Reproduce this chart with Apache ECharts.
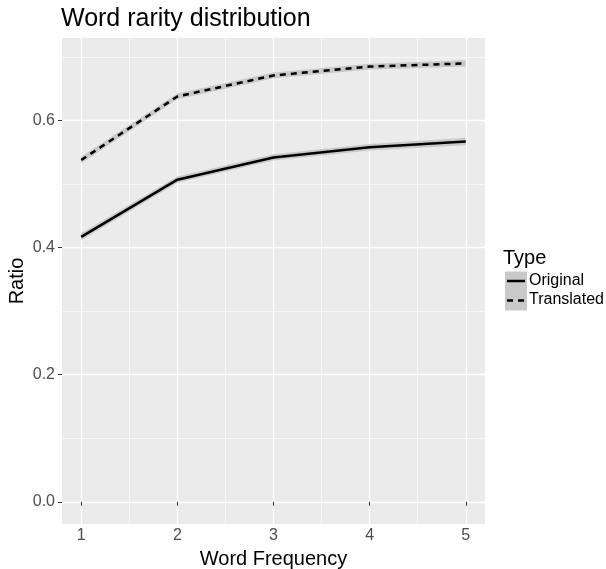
<!DOCTYPE html>
<html>
<head>
<meta charset="utf-8">
<script src="https://cdn.jsdelivr.net/npm/echarts@6/dist/echarts.min.js"></script>
<style>
    html, body { margin: 0; padding: 0; background: #fff; }
    #chart { width: 606px; height: 569px; }
</style>
</head>
<body>
<div id="chart"></div>
<script>
    // 数据
    var freqs = [1, 2, 3, 4, 5];
    var original = [0.417, 0.507, 0.542, 0.558, 0.567];
    var originalLow = [0.4115, 0.502, 0.537, 0.553, 0.561];
    var originalHigh = [0.4225, 0.512, 0.547, 0.563, 0.573];
    var translated = [0.538, 0.638, 0.671, 0.685, 0.690];
    var translatedLow = [0.533, 0.6335, 0.6665, 0.6805, 0.685];
    var translatedHigh = [0.543, 0.6425, 0.6755, 0.6895, 0.695];
    var yTicks = [0, 0.2, 0.4, 0.6];
    var yMinor = [0.1, 0.3, 0.5, 0.7];
    var xMinor = [1.5, 2.5, 3.5, 4.5];
    var legendNames = ['Original', 'Translated'];

    var font = 'Liberation Sans, Arial, sans-serif';
    var ribbonColor = '#c9c9c9';

    var pairs = function(ys){
        var out = [];
        for( var i = 0; i < freqs.length; i++ ){
            out.push( [freqs[i], ys[i]] );
        }
        return out;
    };

    // 置信带：整条带子在第一个数据项里画成一个多边形
    var ribbon = function(name, lo, hi){
        var data = [];
        for( var i = 0; i < freqs.length; i++ ){
            data.push( [freqs[i], lo[i], hi[i]] );
        }
        return {
            name: name,
            type: 'custom',
            data: data,
            silent: true,
            z: 1,
            encode: { x: 0, y: [1, 2] },
            renderItem: function(params, api){
                if( params.dataIndex !== 0 ){
                    return null;
                }
                var n = params.dataInsideLength;
                var top = [], bottom = [];
                for( var j = 0; j < n; j++ ){
                    var x = api.value(0, j);
                    bottom.push( api.coord([x, api.value(1, j)]) );
                    top.unshift( api.coord([x, api.value(2, j)]) );
                }
                return {
                    type: 'polygon',
                    shape: { points: bottom.concat(top) },
                    style: { fill: ribbonColor }
                };
            }
        };
    };

    var option = {
        animation: false,
        backgroundColor: '#fff',
        title: [{
            text: 'Word rarity distribution',
            left: 61,
            top: 7,
            padding: 0,
            textStyle: { fontFamily: font, fontSize: 25, fontWeight: 'normal', color: '#000' }
        }, {
            text: 'Type',
            left: 503,
            top: 248,
            padding: 0,
            textStyle: { fontFamily: font, fontSize: 20, fontWeight: 'normal', color: '#000' }
        }],
        grid: {
            left: 62, right: 121, top: 38, bottom: 45,
            show: true,
            backgroundColor: '#ebebeb',
            borderWidth: 0,
            outerBoundsMode: 'none'
        },
        // 图例：灰色底块 + 线型 + 文字
        graphic: [
            { type: 'rect', left: 505, top: 271.5, shape: { width: 22, height: 19.5 }, style: { fill: ribbonColor } },
            { type: 'rect', left: 505, top: 291, shape: { width: 22, height: 19.5 }, style: { fill: ribbonColor } },
            { type: 'line', shape: { x1: 507, y1: 281, x2: 525, y2: 281 }, style: { stroke: '#000', lineWidth: 2.5 } },
            { type: 'line', shape: { x1: 507, y1: 300.5, x2: 525, y2: 300.5 }, style: { stroke: '#000', lineWidth: 2.5, lineDash: [6, 5] } },
            { type: 'text', left: 529, top: 272.5, style: { text: legendNames[0], font: '16px ' + font, fill: '#000' } },
            { type: 'text', left: 529, top: 292, style: { text: legendNames[1], font: '16px ' + font, fill: '#000' } }
        ],
        xAxis: [{
            type: 'value',
            min: 0.8,
            max: 5.2,
            name: 'Word Frequency',
            nameLocation: 'middle',
            nameGap: 25,
            nameMoveOverlap: false,
            nameTextStyle: { fontFamily: font, fontSize: 20, color: '#000' },
            axisLine: { show: false },
            axisTick: { show: true, length: 4, customValues: freqs, lineStyle: { color: '#333', width: 1 } },
            axisLabel: { customValues: freqs, margin: 4, fontFamily: font, fontSize: 16, color: '#4d4d4d' },
            splitLine: { show: true, lineStyle: { color: '#fff', width: 1.3 } }
        }, {
            type: 'value',
            min: 0.8,
            max: 5.2,
            position: 'bottom',
            axisLine: { show: false },
            axisTick: { show: false, customValues: xMinor },
            axisLabel: { show: false, customValues: xMinor },
            splitLine: { show: true, lineStyle: { color: '#fff', width: 0.6 } }
        }],
        yAxis: [{
            type: 'value',
            min: -0.035,
            max: 0.73,
            name: 'Ratio',
            nameLocation: 'middle',
            nameGap: 35,
            nameRotate: 90,
            nameMoveOverlap: false,
            nameTextStyle: { fontFamily: font, fontSize: 20, color: '#000' },
            axisLine: { show: false },
            axisTick: { show: true, length: 4, customValues: yTicks, lineStyle: { color: '#333', width: 1 } },
            axisLabel: {
                customValues: yTicks, margin: 7, fontFamily: font, fontSize: 16, color: '#4d4d4d',
                formatter: function(v){ return v.toFixed(1); }
            },
            splitLine: { show: true, lineStyle: { color: '#fff', width: 1.3 } }
        }, {
            type: 'value',
            min: -0.035,
            max: 0.73,
            position: 'left',
            axisLine: { show: false },
            axisTick: { show: false, customValues: yMinor },
            axisLabel: { show: false, customValues: yMinor },
            splitLine: { show: true, lineStyle: { color: '#fff', width: 0.6 } }
        }],
        series: [
            ribbon('oriBand', originalLow, originalHigh),
            ribbon('traBand', translatedLow, translatedHigh),
            {
                name: legendNames[0],
                type: 'line',
                data: pairs(original),
                symbol: 'none',
                z: 3,
                lineStyle: { color: '#000', width: 2.5, type: 'solid' }
            },
            {
                name: legendNames[1],
                type: 'line',
                data: pairs(translated),
                symbol: 'none',
                z: 3,
                lineStyle: { color: '#000', width: 2.5, type: [6, 5] }
            }
        ]
    };

    var myChart = echarts.init(document.getElementById('chart'), null, { renderer: 'canvas' });
    myChart.setOption( option );
</script>
</body>
</html>
